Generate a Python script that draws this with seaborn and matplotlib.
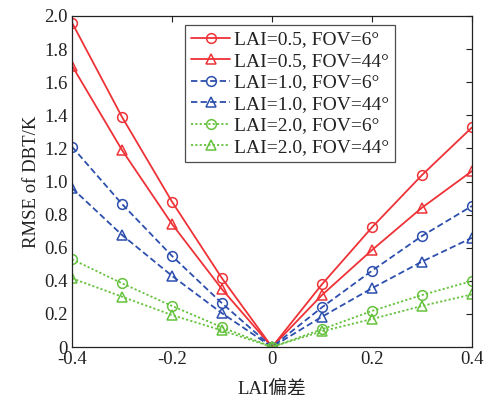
import matplotlib
matplotlib.use("Agg")
import matplotlib.pyplot as plt
import seaborn as sns
import pandas as pd

x = [-0.4, -0.3, -0.2, -0.1, 0.0, 0.1, 0.2, 0.3, 0.4]
labels = ["LAI=0.5, FOV=6°", "LAI=0.5, FOV=44°", "LAI=1.0, FOV=6°",
          "LAI=1.0, FOV=44°", "LAI=2.0, FOV=6°", "LAI=2.0, FOV=44°"]
lai05_fov6 = [1.96, 1.39, 0.878, 0.415, 0.0, 0.379, 0.723, 1.039, 1.327]
lai05_fov44 = [1.70, 1.19, 0.743, 0.349, 0.0, 0.314, 0.586, 0.842, 1.063]
lai10_fov6 = [1.21, 0.864, 0.55, 0.264, 0.0, 0.24, 0.461, 0.671, 0.852]
lai10_fov44 = [0.96, 0.677, 0.43, 0.204, 0.0, 0.183, 0.355, 0.516, 0.66]
lai20_fov6 = [0.53, 0.385, 0.248, 0.119, 0.0, 0.107, 0.218, 0.314, 0.399]
lai20_fov44 = [0.415, 0.304, 0.193, 0.10, 0.0, 0.095, 0.169, 0.248, 0.318]
series = [lai05_fov6, lai05_fov44, lai10_fov6, lai10_fov44, lai20_fov6, lai20_fov44]
xticks = [-0.4, -0.2, 0, 0.2, 0.4]
xticklabels = ["-0.4", "-0.2", "0", "0.2", "0.4"]
yticks = [0, 0.2, 0.4, 0.6, 0.8, 1.0, 1.2, 1.4, 1.6, 1.8, 2.0]
yticklabels = ["0", "0.2", "0.4", "0.6", "0.8", "1.0", "1.2", "1.4", "1.6", "1.8", "2.0"]

rows = []
for lab, vals in zip(labels, series):
    for xi, v in zip(x, vals):
        rows.append({"x": xi, "y": v, "series": lab})
df = pd.DataFrame(rows)

sns.set_theme(style="white")
plt.rcParams['font.family'] = ['Liberation Serif', 'Noto Sans CJK SC']

red = '#ee3237'
blue = '#2d4fae'
green = '#66c23f'
colors = [red, red, blue, blue, green, green]
styles = ['-', '-', '--', '--', ':', ':']
markers = ['o', '^', 'o', '^', 'o', '^']

fig = plt.figure(figsize=(4.84, 4.01), dpi=100)
ax = fig.add_axes([72/484, 54/401, 400/484, 331/401])

for lab, c, ls, mk in zip(labels, colors, styles, markers):
    sub = df[df["series"] == lab]
    sns.lineplot(data=sub, x="x", y="y", ax=ax, color=c, linestyle=ls,
                 marker=mk, markersize=7, markerfacecolor='none',
                 markeredgecolor=c, markeredgewidth=1.1, linewidth=1.3,
                 label=lab, estimator=None, sort=False)
    line = ax.get_lines()[-1]
    if ls == ':':
        line.set_dashes([1.2, 1.2])
    elif ls == '--':
        line.set_dashes([3.5, 1.8])

ax.set_xlim(-0.4, 0.4)
ax.set_ylim(0, 2.0)
ax.set_xticks(xticks)
ax.set_xticklabels(xticklabels)
ax.set_yticks(yticks)
ax.set_yticklabels(yticklabels)
ax.tick_params(direction='in', length=4, width=0.8, color='#222222',
               top=True, right=True, labelsize=13.5, pad=3, labelcolor='#222222')
for s in ax.spines.values():
    s.set_color('#222222')
    s.set_linewidth(0.9)
ax.set_xlabel("LAI偏差", fontsize=13.5, color='#222222', labelpad=9)
ax.set_ylabel("RMSE of DBT/K", fontsize=13.5, color='#222222', labelpad=3)

leg = ax.legend(loc='upper right', bbox_to_anchor=((395 - 72) / 400, (347 - 25) / 331),
                bbox_transform=ax.transAxes, fontsize=14, frameon=True,
                fancybox=False, edgecolor='#222222', handlelength=2.0,
                handletextpad=0.2, borderpad=0.3, labelspacing=0.2,
                borderaxespad=0)
for lh, ls in zip(leg.get_lines(), styles):
    if ls == ':':
        lh.set_dashes([1.2, 1.2])
    elif ls == '--':
        lh.set_dashes([3.5, 1.8])
leg.get_frame().set_linewidth(0.9)
for t in leg.get_texts():
    t.set_color('#222222')

fig.savefig("out.png", dpi=100, facecolor='white')
